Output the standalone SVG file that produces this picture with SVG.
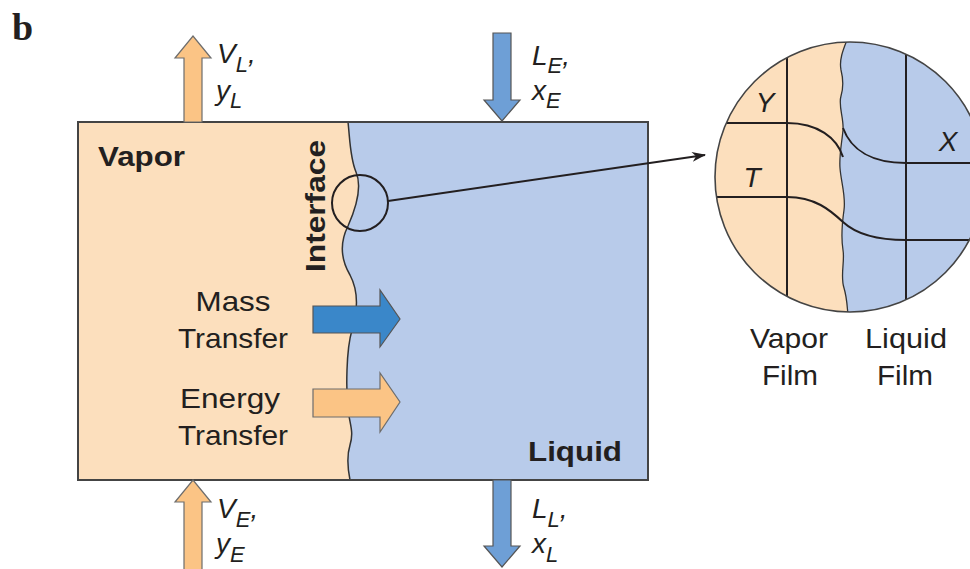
<svg xmlns="http://www.w3.org/2000/svg" width="970" height="569" viewBox="0 0 970 569">
<style>
text{font-family:"Liberation Sans",Arial,Helvetica,sans-serif;fill:#231f20}
.lbl{font-size:28px;text-anchor:middle}
.bold{font-weight:bold;font-size:27px}
.var{font-size:28px;font-style:italic}
.sub{font-size:22px}
.vap{fill:#fcdfbd}
.liq{fill:#b8cbea}
.edge{fill:none;stroke:#333;stroke-width:1.5}
.orange{fill:#fbc485;stroke:#6d6d6d;stroke-width:1.2}
.blue{fill:#6e9fd6;stroke:#555;stroke-width:1.2}
.dblue{fill:#3a87c9;stroke:#555;stroke-width:1.2}
.grid{fill:none;stroke:#231f20;stroke-width:2}
</style>
<defs>
<marker id="head" markerWidth="14" markerHeight="10" refX="13" refY="5" orient="auto" markerUnits="userSpaceOnUse">
<path d="M0,0 L14,5 L0,10 L4,5 Z" fill="#231f20"/>
</marker>
<clipPath id="bigclip"><circle cx="850" cy="177" r="135"/></clipPath>
</defs>
<rect width="970" height="569" fill="#fff"/>
<text x="12" y="40" style="font-family:'Liberation Serif','Times New Roman',serif;font-weight:bold;font-size:38px">b</text>

<g id="box">
<rect x="78" y="122" width="570" height="358" class="vap"/>
<path class="liq" d="M348,122 C350,140 350,158 356,172 C362,186 356,208 348,226 C340,242 340,258 350,275 C358,290 358,310 352,330 C346,350 346,390 348,410 C350,425 354,432 350,445 C346,458 348,470 350,480 L648,480 L648,122 Z"/>
<path class="edge" d="M348,122 C350,140 350,158 356,172 C362,186 356,208 348,226 C340,242 340,258 350,275 C358,290 358,310 352,330 C346,350 346,390 348,410 C350,425 354,432 350,445 C346,458 348,470 350,480"/>
<rect x="78" y="122" width="570" height="358" fill="none" stroke="#444" stroke-width="2"/>
<text class="bold" x="98" y="166" textLength="87" lengthAdjust="spacingAndGlyphs">Vapor</text>
<text class="bold" x="528" y="461" textLength="94" lengthAdjust="spacingAndGlyphs">Liquid</text>
<text class="bold" transform="translate(325,206) rotate(-90)" x="0" y="0" text-anchor="middle" textLength="132" lengthAdjust="spacingAndGlyphs" style="font-size:28px">Interface</text>
<circle cx="360" cy="203" r="28" fill="none" stroke="#231f20" stroke-width="2"/>
</g>

<g id="mass-transfer">
<polygon class="dblue" points="313,306 380,306 380,290 400,319 380,347 380,333 313,333"/>
<text class="lbl" x="233" y="311" textLength="75" lengthAdjust="spacingAndGlyphs">Mass</text>
<text class="lbl" x="233" y="348" textLength="110" lengthAdjust="spacingAndGlyphs">Transfer</text>
</g>

<g id="energy-transfer">
<polygon class="orange" points="313,389 380,389 380,373 400,402 380,432 380,417 313,417"/>
<text class="lbl" x="230" y="408" textLength="100" lengthAdjust="spacingAndGlyphs">Energy</text>
<text class="lbl" x="233" y="445" textLength="110" lengthAdjust="spacingAndGlyphs">Transfer</text>
</g>

<g id="stream-VL">
<polygon class="orange" points="184,122 184,58 175,58 193,36 211,58 202,58 202,122"/>
<text class="var" x="217" y="63">V<tspan class="sub" dy="9">L</tspan><tspan dy="-9">,</tspan></text>
<text class="var" x="216" y="100">y<tspan class="sub" dy="8">L</tspan></text>
</g>

<g id="stream-LE">
<polygon class="blue" points="493,33 511,33 511,100 520,100 502,121 484,100 493,100"/>
<text class="var" x="532" y="65">L<tspan class="sub" dy="8">E</tspan><tspan dy="-8">,</tspan></text>
<text class="var" x="532" y="100">x<tspan class="sub" dy="8">E</tspan></text>
</g>

<g id="stream-VE">
<polygon class="orange" points="184,570 184,502 175,502 193,480 211,502 202,502 202,570"/>
<text class="var" x="217" y="518">V<tspan class="sub" dy="9">E</tspan><tspan dy="-9">,</tspan></text>
<text class="var" x="216" y="553">y<tspan class="sub" dy="9">E</tspan></text>
</g>

<g id="stream-LL">
<polygon class="blue" points="493,480 511,480 511,546 520,546 502,567 484,546 493,546"/>
<text class="var" x="532" y="518">L<tspan class="sub" dy="9">L</tspan><tspan dy="-9">,</tspan></text>
<text class="var" x="532" y="553">x<tspan class="sub" dy="9">L</tspan></text>
</g>

<g id="film-detail">
<g clip-path="url(#bigclip)">
<rect x="700" y="30" width="290" height="300" class="vap"/>
<path class="liq" d="M847,40 C843,50 839,60 841,70 C843,78 844,86 841,96 C838,106 844,118 843,130 C842,142 839,155 840,168 C841,182 846,196 844,210 C842,224 841,238 843,250 C845,262 840,276 844,288 C847,298 847,305 848,315 L990,315 L990,40 Z"/>
<path fill="none" stroke="#333" stroke-width="1.3" d="M847,40 C843,50 839,60 841,70 C843,78 844,86 841,96 C838,106 844,118 843,130 C842,142 839,155 840,168 C841,182 846,196 844,210 C842,224 841,238 843,250 C845,262 840,276 844,288 C847,298 847,305 848,315"/>
<line class="grid" x1="787" y1="40" x2="787" y2="320"/>
<line class="grid" x1="906" y1="40" x2="906" y2="320"/>
<path class="grid" d="M700,123 L787,123 C818,123 837,138 843,157"/>
<path class="grid" d="M843,128 C851,150 872,163 906,163 L990,163"/>
<path class="grid" d="M700,197 L787,197 C815,197 830,210 843,222 C858,236 880,240 906,240 L990,240"/>
</g>
<circle cx="850" cy="177" r="135" fill="none" stroke="#444" stroke-width="1.6"/>
<text class="var" x="765" y="112" text-anchor="middle">Y</text>
<text class="var" x="752" y="187" text-anchor="middle">T</text>
<text class="var" x="948" y="151" text-anchor="middle">X</text>
<text class="lbl" x="789" y="348" textLength="78" lengthAdjust="spacingAndGlyphs">Vapor</text>
<text class="lbl" x="790" y="385" textLength="56" lengthAdjust="spacingAndGlyphs">Film</text>
<text class="lbl" x="906" y="348" textLength="82" lengthAdjust="spacingAndGlyphs">Liquid</text>
<text class="lbl" x="905" y="385" textLength="56" lengthAdjust="spacingAndGlyphs">Film</text>
</g>

<g id="connectors">
<line x1="388" y1="201" x2="705" y2="155" stroke="#231f20" stroke-width="2" marker-end="url(#head)"/>
</g>
</svg>
